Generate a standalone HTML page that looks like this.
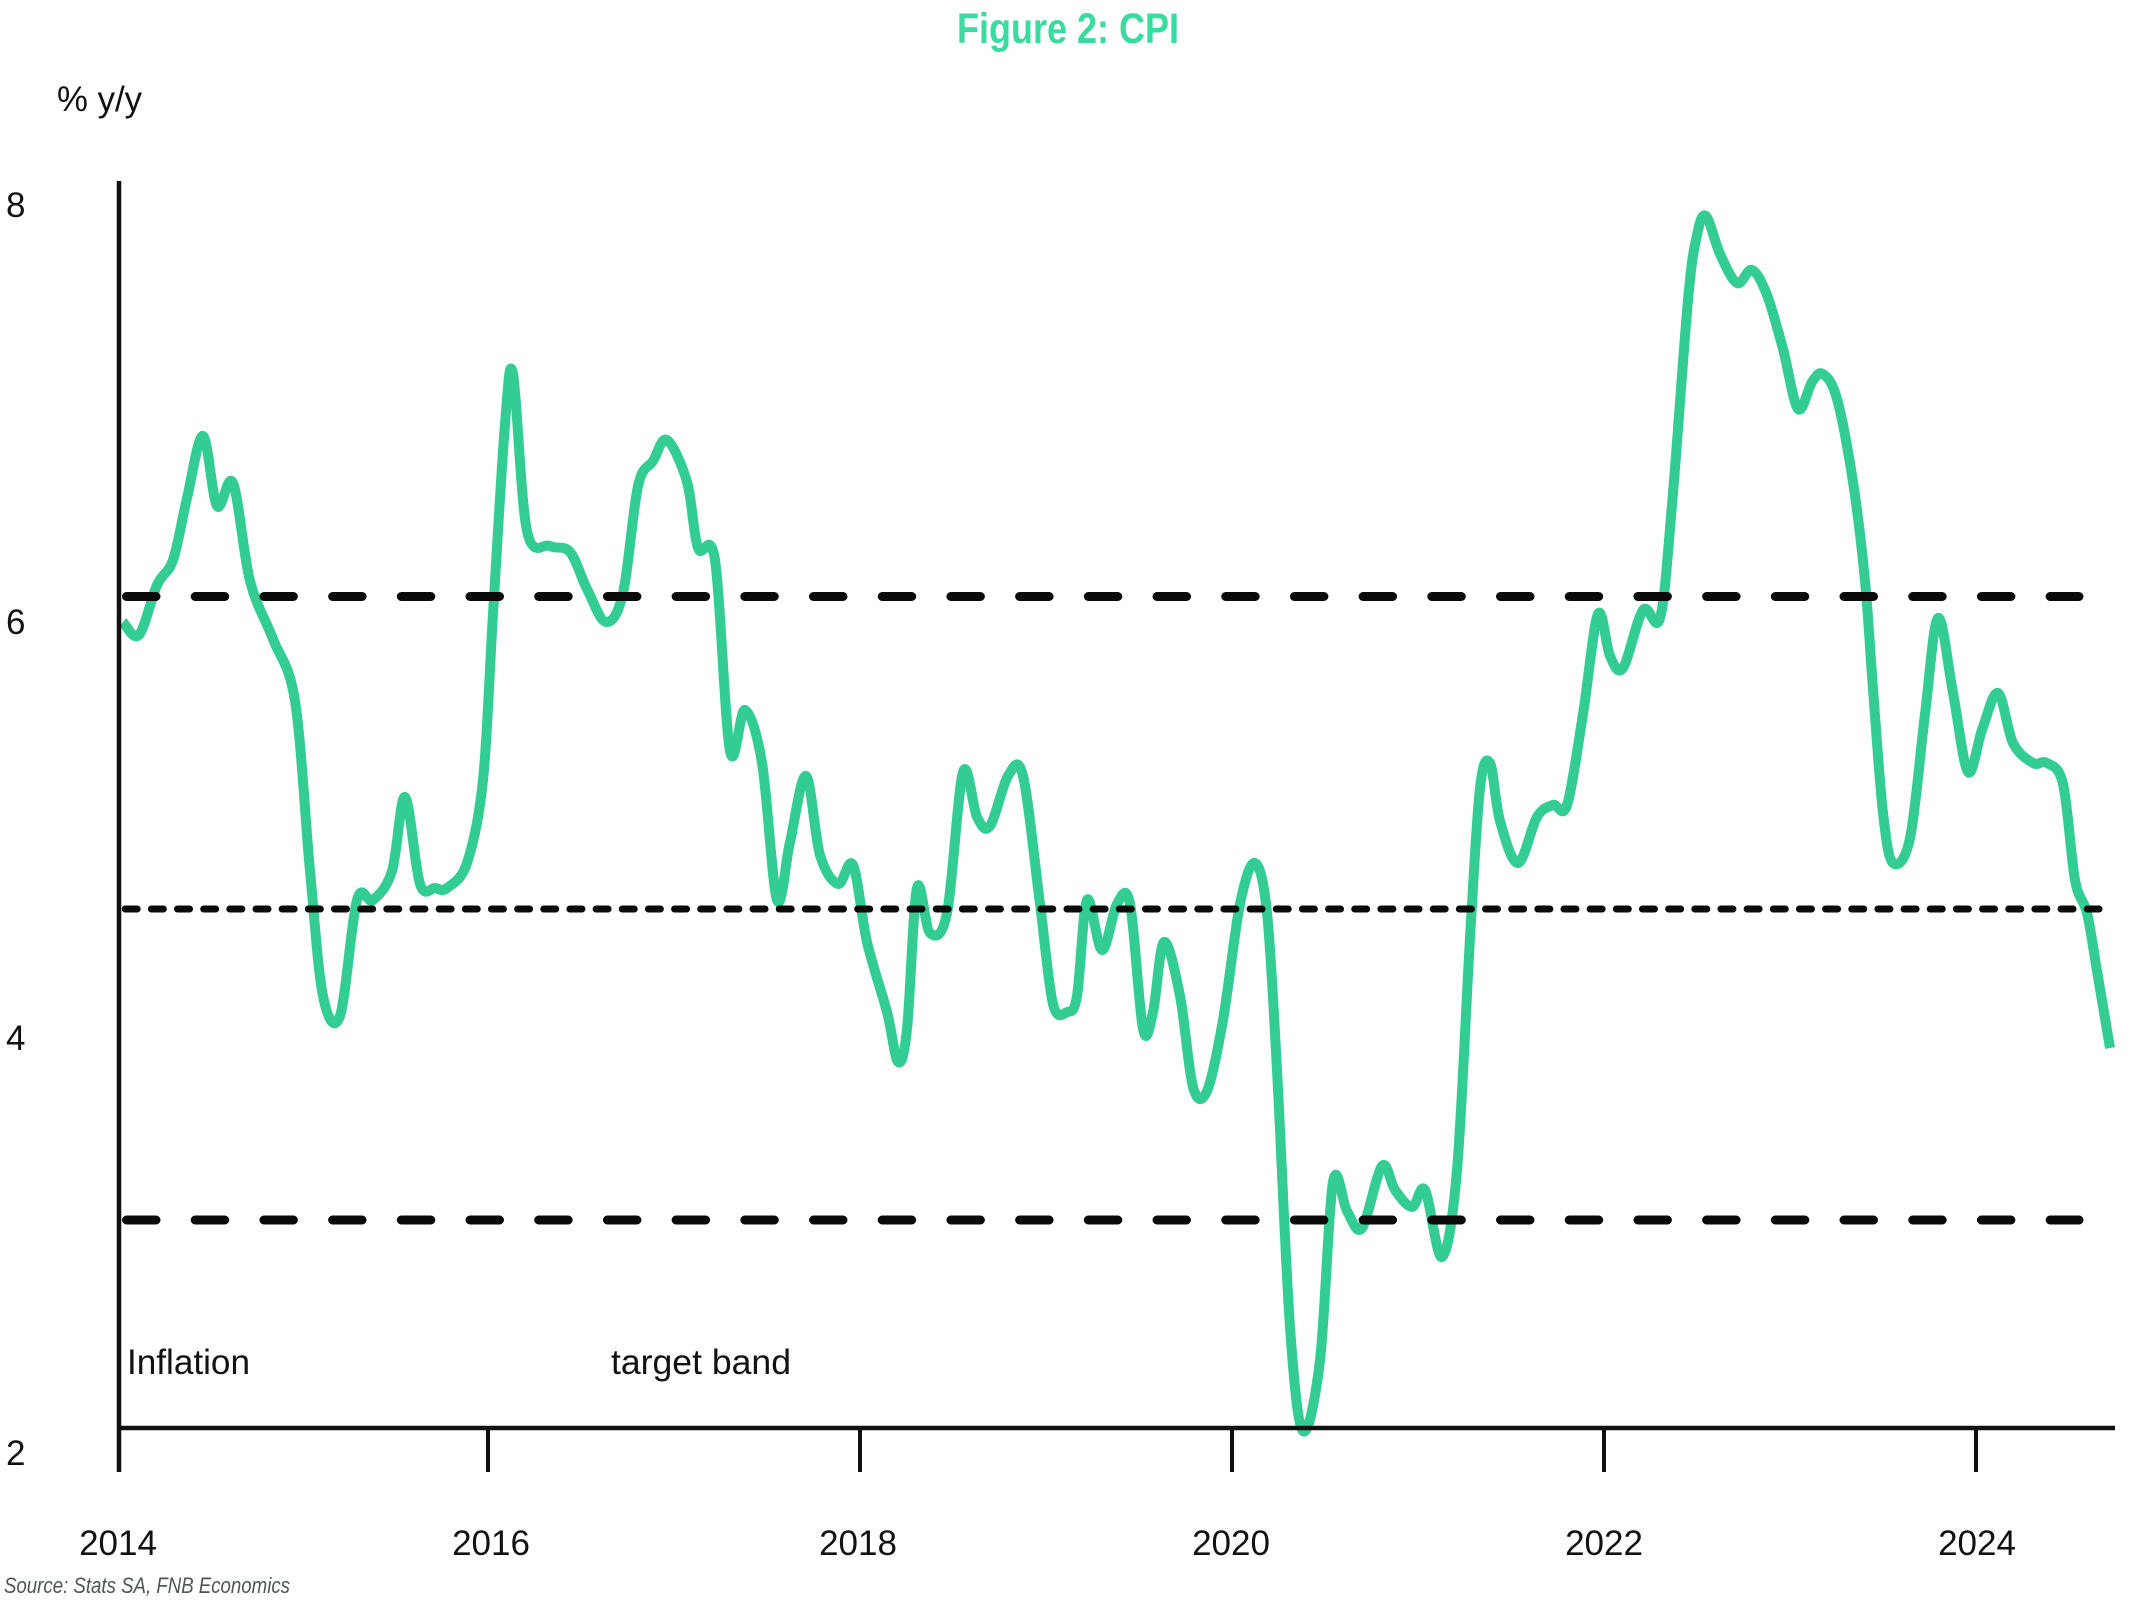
<!DOCTYPE html>
<html>
<head>
<meta charset="utf-8">
<style>
  html,body{margin:0;padding:0;background:#ffffff;}
  svg{display:block;}
  text{font-family:"Liberation Sans",Arial,sans-serif;}
</style>
</head>
<body>
<svg id="chart" width="2133" height="1605" viewBox="0 0 2133 1605" xmlns="http://www.w3.org/2000/svg">
  <rect x="0" y="0" width="2133" height="1605" fill="#ffffff"/>

  <!-- Title -->
  <text x="957" y="43" font-size="43" font-weight="bold" fill="#3ADB9E" textLength="222" lengthAdjust="spacingAndGlyphs">Figure 2: CPI</text>

  <!-- Y unit -->
  <text x="57" y="111" font-size="35" fill="#111" textLength="85" lengthAdjust="spacingAndGlyphs">% y/y</text>

  <!-- Y labels -->
  <text x="6" y="217" font-size="35" fill="#111">8</text>
  <text x="6" y="634" font-size="35" fill="#111">6</text>
  <text x="6" y="1050" font-size="35" fill="#111">4</text>
  <text x="6" y="1465" font-size="35" fill="#111">2</text>

  <!-- X labels -->
  <g font-size="35" fill="#111" text-anchor="middle">
    <text x="118" y="1555">2014</text>
    <text x="491" y="1555">2016</text>
    <text x="858" y="1555">2018</text>
    <text x="1231" y="1555">2020</text>
    <text x="1604" y="1555">2022</text>
    <text x="1977" y="1555">2024</text>
  </g>

  <!-- Band text -->
  <text x="127" y="1374" font-size="35" fill="#111" textLength="123" lengthAdjust="spacingAndGlyphs">Inflation</text>
  <text x="611" y="1374" font-size="35" fill="#111" textLength="180" lengthAdjust="spacingAndGlyphs">target band</text>

  <!-- Source -->
  <text x="4" y="1593" font-size="22" font-style="italic" fill="#4d5654" textLength="286" lengthAdjust="spacingAndGlyphs">Source: Stats SA, FNB Economics</text>

  <!-- CPI line -->
  <polyline id="cpi" fill="none" stroke="#33CC93" stroke-width="10" stroke-linejoin="round" stroke-linecap="butt"
    points="123,622 139,635 157,585 173,560 187,498 203,436 217,506 233,483 250,581 273,639 295,701 310,871 323,996 340,1016 357,900 373,900 392,871 405,797 420,884 435,888 447,888 467,863 483,780 493,614 505,424 513,374 527,531 550,546 570,552 587,589 606,622 623,593 638,486 653,461 667,440 687,482 698,548 715,560 730,751 745,710 762,763 777,900 790,842 806,776 820,855 838,884 853,865 867,942 887,1012 898,1062 907,1029 917,888 930,933 947,913 963,772 977,817 990,826 1008,776 1023,776 1040,904 1053,1004 1067,1012 1077,996 1087,900 1102,950 1117,904 1130,904 1143,1029 1153,1012 1164,942 1180,996 1193,1087 1207,1091 1223,1020 1240,904 1255,863 1267,913 1277,1070 1290,1327 1303,1431 1320,1360 1333,1182 1347,1211 1362,1228 1382,1166 1395,1190 1412,1207 1425,1190 1442,1257 1457,1170 1470,938 1480,788 1490,763 1500,821 1518,863 1537,817 1553,805 1567,805 1583,714 1598,614 1610,656 1623,668 1643,610 1660,618 1672,505 1688,300 1697,235 1706,216 1720,254 1737,283 1752,270 1767,295 1783,349 1798,409 1812,382 1823,374 1837,399 1853,482 1865,581 1873,689 1883,813 1893,863 1910,838 1925,714 1938,618 1953,693 1968,772 1982,730 1998,693 2013,743 2033,763 2047,763 2063,784 2075,880 2087,913 2097,971 2110,1048"/>

  <!-- Target band lines -->
  <line x1="126.5" y1="596.5" x2="2079" y2="596.5" stroke="#0a0a0a" stroke-width="9" stroke-linecap="round" stroke-dasharray="29.5 39.2"/>
  <line x1="126.5" y1="1220" x2="2079" y2="1220" stroke="#0a0a0a" stroke-width="9" stroke-linecap="round" stroke-dasharray="29.5 39.2"/>
  <line x1="125.2" y1="909" x2="2099" y2="909" stroke="#0a0a0a" stroke-width="7" stroke-linecap="round" stroke-dasharray="12 14.16"/>

  <!-- Axes -->
  <line x1="119" y1="181" x2="119" y2="1472" stroke="#111" stroke-width="4.5"/>
  <line x1="117" y1="1428" x2="2115" y2="1428" stroke="#111" stroke-width="4.5"/>
  <g stroke="#111" stroke-width="4">
    <line x1="488" y1="1428" x2="488" y2="1472"/>
    <line x1="860" y1="1428" x2="860" y2="1472"/>
    <line x1="1232" y1="1428" x2="1232" y2="1472"/>
    <line x1="1604" y1="1428" x2="1604" y2="1472"/>
    <line x1="1976" y1="1428" x2="1976" y2="1472"/>
  </g>
</svg>
<script>
(function(){
  try{
    var pl=document.getElementById('cpi');
    var raw=pl.getAttribute('points').trim().split(/\s+/).map(function(s){var a=s.split(',');return [parseFloat(a[0]),parseFloat(a[1])];});
    var d='M'+raw[0][0]+','+raw[0][1];
    for(var i=0;i<raw.length-1;i++){
      var p0=raw[i-1]||raw[i],p1=raw[i],p2=raw[i+1],p3=raw[i+2]||raw[i+1];
      var c1x=p1[0]+(p2[0]-p0[0])/6,c1y=p1[1]+(p2[1]-p0[1])/6;
      var c2x=p2[0]-(p3[0]-p1[0])/6,c2y=p2[1]-(p3[1]-p1[1])/6;
      d+=' C'+c1x.toFixed(2)+','+c1y.toFixed(2)+' '+c2x.toFixed(2)+','+c2y.toFixed(2)+' '+p2[0]+','+p2[1];
    }
    var path=document.createElementNS('http://www.w3.org/2000/svg','path');
    path.setAttribute('d',d);
    path.setAttribute('fill','none');
    path.setAttribute('stroke','#33CC93');
    path.setAttribute('stroke-width','10');
    path.setAttribute('stroke-linejoin','round');
    path.setAttribute('stroke-linecap','butt');
    pl.parentNode.replaceChild(path,pl);
  }catch(e){}
})();
</script>
</body>
</html>
